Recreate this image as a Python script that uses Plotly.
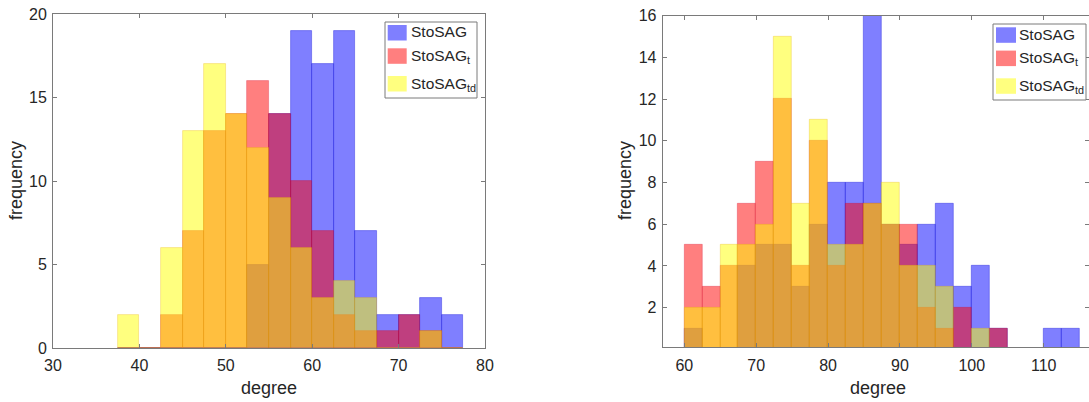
import plotly.graph_objects as go

# Histogram counts per 2.5-degree bin (left edge of each bin listed)
left_bins = [37.5, 40, 42.5, 45, 47.5, 50, 52.5, 55, 57.5, 60, 62.5, 65, 67.5, 70, 72.5, 75]
left_stosag = [0, 0, 0, 0, 0, 0, 5, 14, 19, 17, 19, 7, 2, 2, 3, 2]
left_stosag_t = [0, 0, 2, 7, 13, 14, 16, 14, 10, 7, 2, 1, 1, 2, 1, 0]
left_stosag_td = [2, 0, 6, 13, 17, 14, 12, 9, 6, 3, 4, 3, 0, 0, 1, 0]

right_bins = [60, 62.5, 65, 67.5, 70, 72.5, 75, 77.5, 80, 82.5, 85, 87.5,
              90, 92.5, 95, 97.5, 100, 102.5, 105, 107.5, 110, 112.5]
right_stosag = [1, 0, 0, 4, 5, 5, 3, 6, 8, 8, 16, 6, 5, 6, 7, 3, 4, 1, 0, 0, 1, 1]
right_stosag_t = [5, 3, 4, 7, 9, 12, 4, 10, 4, 7, 7, 6, 6, 2, 1, 2, 0, 1, 0, 0, 0, 0]
right_stosag_td = [2, 2, 5, 5, 6, 15, 7, 11, 5, 5, 7, 8, 4, 4, 3, 0, 1, 0, 0, 0, 0, 0]

bin_width = 2.5
series_names = ["StoSAG", "StoSAG<sub>t</sub>", "StoSAG<sub>td</sub>"]
fill_colors = ["rgba(0,0,255,0.5)", "rgba(255,0,0,0.5)", "rgba(255,255,0,0.5)"]
edge_colors = ["rgba(40,40,220,0.55)", "rgba(210,0,40,0.35)", "rgba(230,170,0,0.35)"]

left_ticks_x = [30, 40, 50, 60, 70, 80]
left_ticks_y = [0, 5, 10, 15, 20]
right_ticks_x = [60, 70, 80, 90, 100, 110]
right_ticks_y = [2, 4, 6, 8, 10, 12, 14, 16]

W, H = 1089, 402
FONT = "Arial, Liberation Sans, Helvetica, sans-serif"
TEXT = "#262626"
LINE = "#7a7a7a"


def px(x):
    return x / W


def py(y):
    return 1 - y / H


fig = go.Figure()

panels = [
    (left_bins, [left_stosag, left_stosag_t, left_stosag_td], "x", "y"),
    (right_bins, [right_stosag, right_stosag_t, right_stosag_td], "x2", "y2"),
]
for bins, series, xa, ya in panels:
    for name, counts, fc, ec in zip(series_names, series, fill_colors, edge_colors):
        fig.add_trace(go.Bar(
            x=bins, y=counts, width=bin_width, offset=0,
            name=name, xaxis=xa, yaxis=ya, showlegend=False,
            marker=dict(color=fc, line=dict(color=ec, width=0.8)),
        ))

axis_common = dict(
    showline=True, linecolor=LINE, linewidth=1, mirror="ticks",
    ticks="inside", ticklen=4, tickcolor=LINE, tickwidth=1,
    showgrid=False, zeroline=False, automargin=False,
    tickfont=dict(family=FONT, size=16, color=TEXT),
    tickmode="array",
)

fig.update_layout(
    template="none",
    width=W, height=H,
    margin=dict(l=0, r=0, t=0, b=0, pad=0),
    paper_bgcolor="white", plot_bgcolor="white",
    barmode="overlay", bargap=0,
    font=dict(family=FONT, color=TEXT),
    xaxis=dict(domain=[px(53), px(485)], range=[30, 80], tickvals=left_ticks_x,
               anchor="y", ticklabelstandoff=3, **axis_common),
    yaxis=dict(domain=[py(348), py(14)], range=[0, 20], tickvals=left_ticks_y,
               anchor="x", ticklabelstandoff=2, **axis_common),
    xaxis2=dict(domain=[px(662.7), 1.0], range=[57, 116.3], tickvals=right_ticks_x,
                anchor="y2", ticklabelstandoff=3, **axis_common),
    yaxis2=dict(domain=[py(347.3), py(15.7)], range=[0.1, 16], tickvals=right_ticks_y,
                anchor="x2", ticklabelstandoff=2, **axis_common),
)

shapes = []
annotations = []

# Axis titles
for x, y, text, angle in [
    (269, 388, "degree", 0),
    (16, 181, "frequency", -90),
    (878, 388, "degree", 0),
    (625, 181, "frequency", -90),
]:
    annotations.append(dict(
        x=px(x), y=py(y), xref="paper", yref="paper", text=text,
        showarrow=False, textangle=angle, xanchor="center", yanchor="middle",
        font=dict(family=FONT, size=18, color=TEXT),
    ))

# Legend boxes (one per panel)
legend_boxes = [
    dict(box=(385, 22, 477, 98), sw_x=(387.7, 406.7), sw_y=[25, 48.3, 76], text_x=408.5),
    dict(box=(993, 24, 1086, 100), sw_x=(996, 1016), sw_y=[27.3, 50.6, 78.3], text_x=1017),
]
for lg in legend_boxes:
    x0, y0, x1, y1 = lg["box"]
    shapes.append(dict(type="rect", xref="paper", yref="paper",
                       x0=px(x0), x1=px(x1), y0=py(y1), y1=py(y0),
                       line=dict(color=LINE, width=1), fillcolor="white", layer="above"))
    for name, fc, sy in zip(series_names, fill_colors, lg["sw_y"]):
        shapes.append(dict(type="rect", xref="paper", yref="paper",
                           x0=px(lg["sw_x"][0]), x1=px(lg["sw_x"][1]),
                           y0=py(sy + 15.5), y1=py(sy),
                           line=dict(width=0), fillcolor=fc, layer="above"))
        annotations.append(dict(
            x=px(lg["text_x"]), y=py(sy - 3.5), xref="paper", yref="paper",
            text=name, showarrow=False, xanchor="left", yanchor="top",
            font=dict(family=FONT, size=15.5, color=TEXT),
        ))

fig.update_layout(shapes=shapes, annotations=annotations)

fig.write_html("out.html")
